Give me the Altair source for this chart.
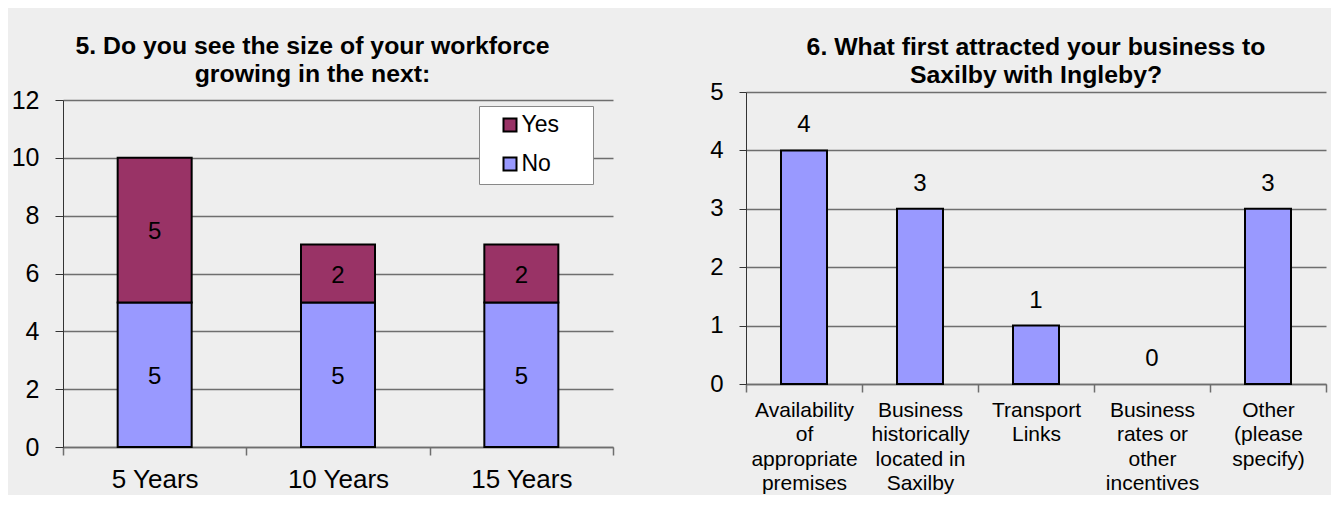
import altair as alt
import pandas as pd

# ---- data ----
years = ["5 Years", "10 Years", "15 Years"]
no_vals = [5, 5, 5]
yes_vals = [5, 2, 2]

reasons = [
    "Availability|of|appropriate|premises",
    "Business|historically|located in|Saxilby",
    "Transport|Links",
    "Business|rates or|other|incentives",
    "Other|(please|specify)",
]
reason_vals = [4, 3, 1, 0, 3]

title1 = ["5. Do you see the size of your workforce", "growing in the next:"]
title2 = ["6. What first attracted your business to", "Saxilby with Ingleby?"]

BG = "#EEEEEE"
BLUE = "#9999FF"
MAROON = "#993366"
FONT = "Liberation Sans"
GRID = "#6E6E6E"
AX = "#333333"

df1 = pd.DataFrame({
    "year": years * 2,
    "answer": ["No"] * len(years) + ["Yes"] * len(years),
    "value": no_vals + yes_vals,
    "ord": [0] * len(years) + [1] * len(years),
})
df2 = pd.DataFrame({"reason": reasons, "value": reason_vals})

# ---- chart 1: stacked bars ----
base1 = alt.Chart(df1).transform_stack(
    stack="value", groupby=["year"], as_=["v0", "v1"], sort=[alt.SortField("ord")]
).transform_calculate(mid="(datum.v0 + datum.v1) / 2")

x1 = alt.X(
    "year:N", sort=years, title=None,
    scale=alt.Scale(paddingInner=0, paddingOuter=0),
    axis=alt.Axis(labelAngle=0, labelFontSize=26, labelFont=FONT, labelColor="black",
                  labelPadding=11, tickBand="extent", tickSize=8, tickColor=GRID,
                  domainColor=GRID, domainWidth=1.5, tickWidth=1.5, grid=False),
)
y1_axis = alt.Axis(values=[0, 2, 4, 6, 8, 10, 12], format="d", labelFontSize=25, labelFont=FONT,
                   labelColor="black", labelPadding=16, tickSize=8, tickColor=AX,
                   domainColor=AX, grid=True, gridColor=GRID, gridWidth=1.5)

bars1 = base1.mark_bar(size=74, stroke="black", strokeWidth=2).encode(
    x=x1,
    y=alt.Y("v0:Q", title=None, scale=alt.Scale(domain=[0, 12], nice=False), axis=y1_axis),
    y2="v1:Q",
    color=alt.Color(
        "answer:N",
        scale=alt.Scale(domain=["Yes", "No"], range=[MAROON, BLUE]),
        legend=alt.Legend(
            title=None, orient="none", legendX=416, legendY=6,
            fillColor="white", strokeColor="#888888", padding=7.5,
            symbolType="square", symbolSize=169, symbolStrokeColor="black",
            symbolStrokeWidth=2, symbolOpacity=1, symbolOffset=12,
            labelFontSize=23, labelFont=FONT, labelColor="black", labelOffset=0,
            rowPadding=15,
            labelExpr="datum.label + '\u00a0\u00a0\u00a0\u00a0\u200b'",
        ),
    ),
)
text1 = base1.mark_text(fontSize=24, font=FONT, color="black", baseline="middle", dy=2).encode(
    x=alt.X("year:N", sort=years),
    y=alt.Y("mid:Q"),
    text="value:Q",
)
chart1 = alt.layer(bars1, text1).properties(
    width=550, height=347,
    title=alt.TitleParams(text=title1, fontSize=24.8, font=FONT, fontWeight="bold",
                          color="black", lineHeight=28, anchor="middle", frame="bounds", offset=1),
)

# ---- chart 2: simple bars ----
base2 = alt.Chart(df2)
x2 = alt.X(
    "reason:N", sort=reasons, title=None,
    scale=alt.Scale(paddingInner=0, paddingOuter=0),
    axis=alt.Axis(labelAngle=0, labelExpr="split(datum.label, '|')", labelLineHeight=24.5,
                  labelFontSize=21, labelFont=FONT, labelColor="black", labelPadding=7,
                  tickBand="extent", tickSize=8, tickColor=GRID, tickWidth=1.5,
                  domainColor=GRID, domainWidth=1.5, grid=False, labelLimit=300),
)
y2_axis = alt.Axis(values=[0, 1, 2, 3, 4, 5], format="d", labelFontSize=24, labelFont=FONT,
                   labelColor="black", labelPadding=16, tickSize=7, tickColor=AX,
                   domainColor=AX, grid=True, gridColor=GRID, gridWidth=1.5)
bars2 = base2.transform_filter("datum.value > 0").mark_bar(
    size=46, fill=BLUE, stroke="black", strokeWidth=2
).encode(
    x=x2,
    y=alt.Y("value:Q", title=None,
            scale=alt.Scale(domain=[0, 5], nice=False, range=[284, -8]), axis=y2_axis),
)
text2 = base2.mark_text(fontSize=24, font=FONT, color="black", baseline="alphabetic", dy=-18).encode(
    x=alt.X("reason:N", sort=reasons),
    y=alt.Y("value:Q"),
    text="value:Q",
)
chart2 = alt.layer(bars2, text2).properties(
    width=580, height=284,
    title=alt.TitleParams(text=title2, fontSize=24.8, font=FONT, fontWeight="bold",
                          color="black", lineHeight=28, anchor="middle", frame="group", offset=-8),
)

chart = alt.hconcat(chart1, chart2, spacing=95).properties(
    background=BG,
    padding={"left": 3, "top": 26, "right": 4, "bottom": 1},
).configure_view(stroke=None)

chart.save("out.html", embed_options={"renderer": "svg", "actions": False})
